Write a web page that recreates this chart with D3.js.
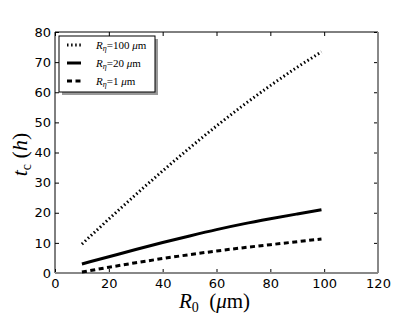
<!DOCTYPE html>
<html>
<head>
<title>t_c vs R0</title>
<style>
  body { margin: 0; background: #fff; }
  .tick text { font-family: "DejaVu Sans", sans-serif; font-size: 13px; fill: #000; }
</style>
</head>
<body>
<div id="my_dataviz"></div>
<script src="https://d3js.org/d3.v7.min.js"></script>
<script>

    // values
    var r0 = [10, 20, 30, 40, 50, 60, 70, 80, 90, 99];
    var tc100 = [9.6, 17.9, 26.0, 33.9, 41.5, 48.8, 55.7, 62.2, 68.3, 73.4];
    var tc20 = [3.0, 5.4, 7.8, 10.1, 12.3, 14.4, 16.3, 18.0, 19.6, 21.0];
    var tc1 = [0.3, 1.9, 3.4, 4.8, 6.1, 7.3, 8.4, 9.4, 10.4, 11.3];
    var xTicks = [0, 20, 40, 60, 80, 100, 120];
    var yTicks = [0, 10, 20, 30, 40, 50, 60, 70, 80];
    var legendLabels = ["100", "20", "1"];

    var margin = {top: 32, right: 42, bottom: 42, left: 55},
        width = 420 - margin.left - margin.right,
        height = 315 - margin.top - margin.bottom;

    var svg = d3.select("#my_dataviz")
      .append("svg")
        .attr("width", 420)
        .attr("height", 315)
      .append("g")
        .attr("transform", "translate(" + margin.left + "," + margin.top + ")");

    var x = d3.scaleLinear().domain([0, 120]).range([0, width]);
    var y = d3.scaleLinear().domain([0, 80]).range([height, 0]);

    // axes, ticks pointing inwards
    svg.append("g")
      .attr("transform", "translate(0," + height + ")")
      .call(d3.axisBottom(x).tickValues(xTicks).tickSizeInner(-4).tickSizeOuter(0).tickPadding(6))
      .call(function(g){ g.select(".domain").remove(); });
    svg.append("g")
      .call(d3.axisLeft(y).tickValues(yTicks).tickSizeInner(-4).tickSizeOuter(0).tickPadding(4))
      .call(function(g){ g.select(".domain").remove(); });
    svg.append("g")
      .call(d3.axisTop(x).tickValues(xTicks).tickSizeInner(-4).tickSizeOuter(0).tickFormat(""))
      .call(function(g){ g.select(".domain").remove(); });
    svg.append("g")
      .attr("transform", "translate(" + width + ",0)")
      .call(d3.axisRight(y).tickValues(yTicks).tickSizeInner(-4).tickSizeOuter(0).tickFormat(""))
      .call(function(g){ g.select(".domain").remove(); });

    // frame
    svg.append("line").attr("x1", 0).attr("x2", width).attr("y1", 0).attr("y2", 0)
      .attr("stroke", "#000").attr("stroke-width", 1);
    svg.append("line").attr("x1", 0).attr("x2", 0).attr("y1", 0).attr("y2", height)
      .attr("stroke", "#000").attr("stroke-width", 1);
    svg.append("line").attr("x1", 0).attr("x2", width).attr("y1", height).attr("y2", height)
      .attr("stroke", "#888").attr("stroke-width", 2);
    svg.append("line").attr("x1", width).attr("x2", width).attr("y1", 0).attr("y2", height)
      .attr("stroke", "#888").attr("stroke-width", 2);

    var series = [
      {vals: tc100, dash: "1.5,2.6"},
      {vals: tc20, dash: null},
      {vals: tc1, dash: "5,3.5"}
    ];

    var line = d3.line()
      .curve(d3.curveMonotoneX)
      .x(function(d, i) { return x(r0[i]); })
      .y(function(d) { return y(d); });

    series.forEach(function(s) {
      svg.append("path")
        .datum(s.vals)
        .attr("d", line)
        .attr("fill", "none")
        .attr("stroke", "#000")
        .attr("stroke-width", 3)
        .attr("stroke-dasharray", s.dash);
    });

    // legend
    var lg = svg.append("g").attr("transform", "translate(4,4)");
    lg.append("rect").attr("x", 3).attr("y", 3).attr("width", 96).attr("height", 56)
      .attr("fill", "#999");
    lg.append("rect").attr("x", 0).attr("y", 0).attr("width", 96).attr("height", 56)
      .attr("fill", "#fff").attr("stroke", "#000").attr("stroke-width", 1);
    series.forEach(function(s, i) {
      var yy = 9 + i * 18;
      lg.append("line").attr("x1", 8).attr("x2", 22).attr("y1", yy).attr("y2", yy)
        .attr("stroke", "#000").attr("stroke-width", 3)
        .attr("stroke-dasharray", s.dash);
      var t = lg.append("text").attr("x", 37).attr("y", yy + 4)
        .attr("font-family", "Liberation Serif, serif").attr("font-size", 11);
      t.append("tspan").attr("font-style", "italic").text("R");
      t.append("tspan").attr("font-style", "italic").attr("font-size", 8).attr("dy", 2).text("η");
      t.append("tspan").attr("dy", -2).text("=" + legendLabels[i] + " ");
      t.append("tspan").attr("font-style", "italic").text("μ");
      t.append("tspan").text("m");
    });

    // axis labels
    var xl = svg.append("text")
      .attr("x", width / 2 - 2).attr("y", height + 35)
      .attr("text-anchor", "middle")
      .attr("font-family", "Liberation Serif, serif").attr("font-size", 21);
    xl.append("tspan").attr("font-style", "italic").text("R");
    xl.append("tspan").attr("font-size", 14).attr("dy", 4).text("0");
    xl.append("tspan").attr("dy", -4).text("\u00a0\u00a0(");
    xl.append("tspan").attr("font-style", "italic").text("μ");
    xl.append("tspan").text("m)");

    var yl = svg.append("text")
      .attr("transform", "translate(-28," + (height / 2 + 2) + ") rotate(-90)")
      .attr("text-anchor", "middle")
      .attr("font-family", "Liberation Serif, serif").attr("font-size", 22);
    yl.append("tspan").attr("font-style", "italic").text("t");
    yl.append("tspan").attr("font-size", 14).attr("dy", 4).text("c");
    yl.append("tspan").attr("dy", -4).text("\u00a0(");
    yl.append("tspan").attr("font-style", "italic").text("h");
    yl.append("tspan").text(")");

</script>
</body>
</html>
